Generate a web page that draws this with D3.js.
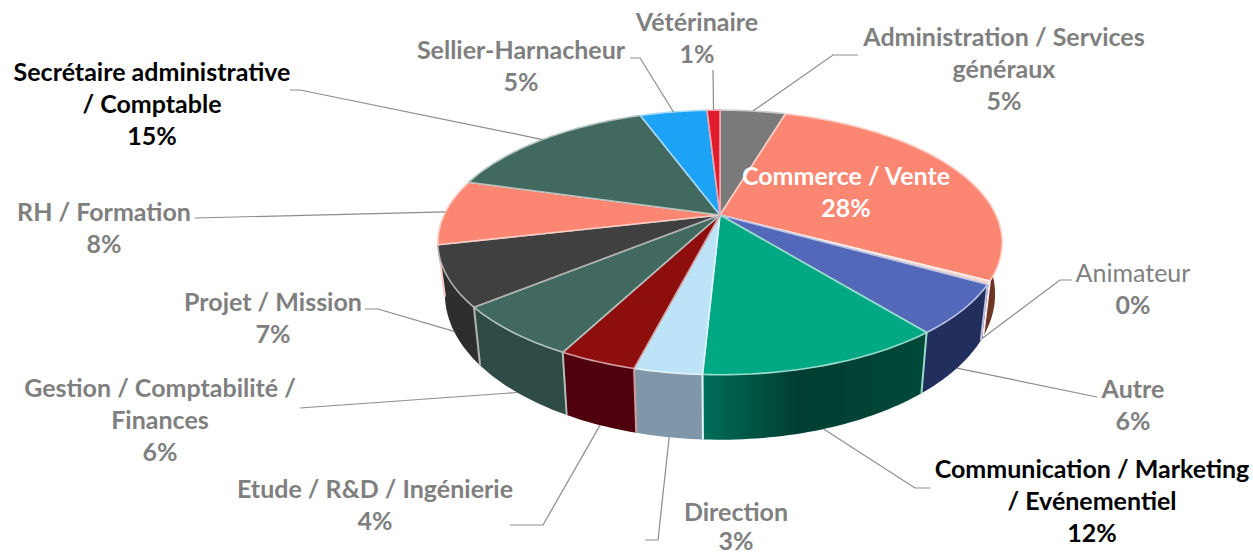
<!DOCTYPE html>
<html><head><meta charset="utf-8">
<script src="https://cdn.jsdelivr.net/npm/d3@7/dist/d3.min.js"></script>
<style>html,body{margin:0;padding:0;background:#fff}svg{display:block}text{font-family:Lato,"Open Sans",sans-serif;font-weight:700;font-size:25px}</style>
</head><body><svg id="c" width="1253" height="555"></svg>
<script>
const categories=["Administration / Services généraux","Commerce / Vente","Animateur","Autre","Communication / Marketing / Evénementiel","Direction","Etude / R&D / Ingénierie","Gestion / Comptabilité / Finances","Projet / Mission","RH / Formation","Secrétaire administrative / Comptable","Sellier-Harnacheur","Vétérinaire"];
const values=[4.6,28.2,0.4,6,11.6,3.2,3.7,6.4,7.3,8,15,4.7,0.9];
const percentLabels=["5%","28%","0%","6%","12%","3%","4%","6%","7%","8%","15%","5%","1%"];
const topColors=["#7a7a7a","#fb8672","#f6d5cf","#5368b8","#00a984","#bce3f7","#8e0b10","#42695f","#404040","#fb8672","#42695f","#1aa3f5","#e01b2e"];
const sideColors=["#555","#6d3528","#6d3528","#232d5c","url(#gComm)","url(#gDir)","#4f0508","#2f4b45","#2f2f2f","#2f2f2f","#2f4b45","#1273ad","#9e1320"];
const labelLines=[["Administration / Services","généraux"],["Commerce / Vente"],["Animateur"],["Autre"],["Communication / Marketing","/ Evénementiel"],["Direction"],["Etude / R&D / Ingénierie"],["Gestion / Comptabilité /","Finances"],["Projet / Mission"],["RH / Formation"],["Secrétaire administrative","/ Comptable"],["Sellier-Harnacheur"],["Vétérinaire"]];
const labelStyle=[
 {x:1004,y:46,fill:"#7f7f7f"},{x:846,y:185,fill:"#fff"},{x:1133,y:282,fill:"#7f7f7f",regular:true},{x:1133,y:398,fill:"#7f7f7f"},
 {x:1092,y:478,fill:"#000"},{x:736,y:521,fill:"#7f7f7f"},{x:375,y:498,fill:"#7f7f7f"},{x:160,y:397,fill:"#7f7f7f"},
 {x:273,y:311,fill:"#7f7f7f"},{x:104,y:221,fill:"#7f7f7f"},{x:152,y:81,fill:"#000"},{x:521,y:59,fill:"#7f7f7f"},{x:697,y:31,fill:"#7f7f7f"}];
const leaderEnds=[[[833,55],[858,55]],null,[[1060,280],[1072,280]],[[1097,397]],[[915,488],[930,488]],[[658,540],[645,540]],[[543,525],[510,525]],[[300,408]],[[378,309],[365,309]],[[195,218]],[[300,90],[290,90]],[[640,58],[630,58]],[[713,70]]];
const leaderOnBottom=[0,0,1,1,1,1,1,1,1,0,0,0,0];

const svg=d3.select("#c");
const defs=svg.append("defs");
function grad(id,x1,x2,stops){const g=defs.append("linearGradient").attr("id",id).attr("gradientUnits","userSpaceOnUse").attr("x1",x1).attr("x2",x2).attr("y1",0).attr("y2",0);
 stops.forEach(s=>g.append("stop").attr("offset",s[0]).attr("stop-color",s[1]));}
grad("gComm",700,920,[[0,"#00705a"],[.45,"#003d30"],[1,"#00483a"]]);
grad("gDir",636,700,[[0,"#7f97a8"],[1,"#7f97a8"]]);
defs.append("filter").attr("id","soft").append("feGaussianBlur").attr("stdDeviation",0.7);

// perspective projection of the pie disc
const cx=720,cy=215,R=276,d0=4.82,H=126.6,wallS=1.1,wallD=49,wallX=0.975;
function proj(a,bottom){const u=Math.sin(a),v=-Math.cos(a),k=d0/(d0-v);
 const X=R*u*k,Y=H*v*k;
 return bottom?[cx+X*wallX,cy+Y*wallS+wallD]:[cx+X,cy+Y];}
const pie=d3.pie().sort(null).value(d=>d)(values);
const line=d3.line();
function arcPts(s,e,b){const n=Math.max(2,Math.ceil((e-s)/0.02));return d3.range(n+1).map(i=>proj(s+(e-s)*i/n,b));}
const tint=c=>d3.interpolateRgb(c,"#fff")(0.6);

const g=svg.append("g").attr("filter","url(#soft)");
// walls back-to-front
const walls=pie.map((p,i)=>({p,i})).sort((a,b)=>(-Math.cos((a.p.startAngle+a.p.endAngle)/2))-(-Math.cos((b.p.startAngle+b.p.endAngle)/2)));
g.selectAll("path.wall").data(walls).join("path").attr("class","wall")
 .attr("d",d=>line(arcPts(d.p.startAngle,d.p.endAngle,false).concat(arcPts(d.p.startAngle,d.p.endAngle,true).reverse()))+"Z")
 .attr("fill",d=>sideColors[d.i]);
// wall separators
g.selectAll("path.sep").data(pie.filter(p=>Math.cos(p.startAngle)<0.1)).join("path").attr("class","sep")
 .attr("d",p=>line([proj(p.startAngle,false),proj(p.startAngle,true)]))
 .attr("stroke",p=>tint(topColors[p.index])).attr("stroke-width",2).attr("fill","none");
// top faces
g.selectAll("path.top").data(pie).join("path").attr("class","top")
 .attr("d",p=>line([[cx,cy]].concat(arcPts(p.startAngle,p.endAngle,false)))+"Z")
 .attr("fill",p=>topColors[p.index]).attr("stroke",p=>tint(topColors[p.index])).attr("stroke-width",1.6).attr("stroke-linejoin","round");

// leaders
svg.append("g").selectAll("path").data(pie.filter(p=>leaderEnds[p.index])).join("path")
 .attr("d",p=>{const a=(p.startAngle+p.endAngle)/2;return line([proj(a,!!leaderOnBottom[p.index])].concat(leaderEnds[p.index]));})
 .attr("fill","none").attr("stroke","#8c8c8c").attr("stroke-width",1.2);

// labels
const lh=32;
const lab=svg.append("g").attr("text-anchor","middle");
categories.forEach((c,i)=>{const s=labelStyle[i];const t=lab.append("text").attr("x",s.x).attr("y",s.y).attr("fill",s.fill);
 const step=i===5?29:lh;
 labelLines[i].concat([percentLabels[i]]).forEach((l,j)=>{t.append("tspan").attr("x",s.x).attr("dy",j?step:0).text(l)
  .style("font-weight",(s.regular&&j==0)?400:700);});});
</script></body></html>
